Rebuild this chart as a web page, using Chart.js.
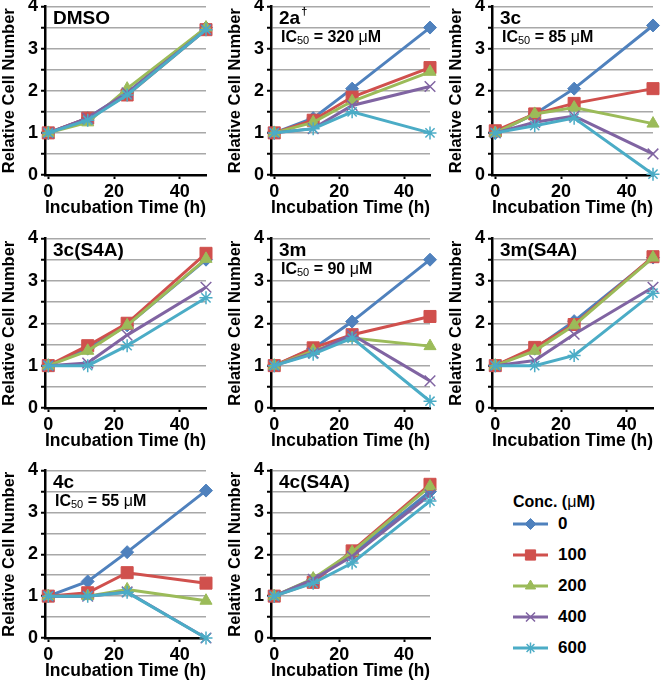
<!DOCTYPE html>
<html lang="en">
<head>
<meta charset="UTF-8">
<title>Relative Cell Number vs Incubation Time</title>
<script src="https://cdn.jsdelivr.net/npm/chart.js"></script>
<style>
  body { margin: 0; background: #fff; width: 662px; height: 683px; position: relative; overflow: hidden;
         font-family: 'Liberation Sans', Arial, sans-serif; }
  .panel { position: absolute; }
  .legend-title { position: absolute; left: 554px; top: 502px; transform: translate(-50%, -50%);
                  font-weight: bold; font-size: 16px; white-space: nowrap; }
  .legend-row { position: absolute; left: 511px; height: 20px; }
  .legend-row canvas { position: absolute; left: 0; top: 0; }
  .legend-row span { position: absolute; left: 47px; top: 0; line-height: 20px; font-weight: bold; font-size: 17px; }
</style>
</head>
<body>
<div id="panels"></div>
<div class="legend-title">Conc. (<span style="font-weight:normal">&mu;</span>M)</div>
<div id="legend"></div>

<script>
// time points (h)
const times = [0, 12, 24, 48];
// concentrations (uM)
const concLabels = ['0', '100', '200', '400', '600'];

// relative cell number, one row per concentration
const dmso = [
  [1.0, 1.35, 1.95, 3.5],
  [1.0, 1.35, 1.9, 3.45],
  [1.0, 1.25, 2.05, 3.5],
  [1.0, 1.35, 1.95, 3.45],
  [1.0, 1.3, 1.9, 3.45]
];
const c2a = [
  [1.0, 1.35, 2.05, 3.5],
  [1.0, 1.3, 1.85, 2.55],
  [1.0, 1.25, 1.75, 2.45],
  [1.0, 1.1, 1.65, 2.1],
  [1.0, 1.1, 1.5, 1.0]
];
const c3c = [
  [1.0, 1.45, 2.05, 3.55],
  [1.05, 1.45, 1.7, 2.05],
  [1.0, 1.45, 1.6, 1.22],
  [1.0, 1.25, 1.4, 0.5],
  [1.0, 1.17, 1.35, 0.02]
];
const c3cS4A = [
  [1.0, 1.4, 1.95, 3.5],
  [1.0, 1.47, 2.0, 3.65],
  [1.0, 1.35, 1.95, 3.52],
  [1.0, 1.06, 1.72, 2.85],
  [1.0, 1.0, 1.47, 2.6]
];
const c3m = [
  [1.0, 1.4, 2.04, 3.5],
  [1.0, 1.42, 1.73, 2.16],
  [1.0, 1.35, 1.65, 1.46],
  [1.0, 1.3, 1.73, 0.64],
  [1.0, 1.27, 1.65, 0.16]
];
const c3mS4A = [
  [1.0, 1.4, 2.05, 3.55],
  [1.0, 1.43, 1.97, 3.57],
  [1.0, 1.35, 1.95, 3.55],
  [1.0, 1.12, 1.74, 2.85],
  [1.0, 1.0, 1.24, 2.71]
];
const c4c = [
  [1.0, 1.35, 2.05, 3.52],
  [1.0, 1.08, 1.56, 1.31],
  [1.0, 1.0, 1.16, 0.89],
  [1.0, 1.0, 1.1, 0.0],
  [1.0, 1.0, 1.09, 0.0]
];
const c4cS4A = [
  [1.0, 1.4, 2.0, 3.5],
  [1.0, 1.33, 2.08, 3.67],
  [1.0, 1.42, 2.05, 3.62],
  [1.0, 1.4, 1.95, 3.42],
  [1.0, 1.31, 1.79, 3.27]
];

const panelData = [dmso, c2a, c3c, c3cS4A, c3m, c3mS4A, c4c, c4cS4A];
const panelNames = ['DMSO', '2a', '3c', '3c(S4A)', '3m', '3m(S4A)', '4c', '4c(S4A)'];
const panelSup = ['', '\u2020', '', '', '', '', '', ''];
const panelIC50 = ['', '320', '85', '', '90', '', '55', ''];

// series styling
const colors = ['#4F81BD', '#D0504D', '#9BBB59', '#8064A2', '#4BACC6'];
const markers = ['rectRot', 'rect', 'triangle', 'crossRot', 'star'];
const markerSize = [6.5, 8.5, 7, 7.5, 6.5];

// page layout (pixels)
const FONT = "'Liberation Sans', Arial, sans-serif";
const colAxis = [45, 271, 492];
const colRight = [206, 430, 653];
const rowTop = [5, 237, 469];
const rowBottom = [175, 408, 638];
const Y_W = 43, X_H = 47, PAD_TOP = 8, CANVAS_W = 216;

Chart.defaults.font.family = FONT;
Chart.defaults.color = '#000';

const panelText = {
  id: 'panelText',
  afterDraw(chart, args, opts) {
    const ctx = chart.ctx, a = chart.chartArea;
    ctx.save();
    ctx.fillStyle = '#000';
    ctx.textBaseline = 'middle';
    ctx.textAlign = 'left';
    let x = a.left + 8, y = a.top + 12;
    ctx.font = 'bold 19px ' + FONT;
    ctx.fillText(opts.name, x, y);
    if (opts.sup) {
      const w = ctx.measureText(opts.name).width;
      ctx.font = 'bold 11px ' + FONT;
      ctx.fillText(opts.sup, x + w + 1, y - 7);
    }
    if (opts.ic50) {
      let cx = a.left + 10;
      const cy = a.top + 31;
      const parts = [
        ['IC', 'bold 16px', 0],
        ['50', '11px', 3],
        [' = ' + opts.ic50 + ' ', 'bold 16px', 0],
        ['\u03bc', '16px', 0],
        ['M', 'bold 16px', 0]
      ];
      parts.forEach(p => {
        ctx.font = p[1] + ' ' + FONT;
        ctx.fillText(p[0], cx, cy + p[2]);
        cx += ctx.measureText(p[0]).width;
      });
    }
    ctx.restore();
  }
};

const holder = document.getElementById('panels');

panelData.forEach((rows, k) => {
  const col = k % 3, row = Math.floor(k / 3);
  const plotW = colRight[col] - colAxis[col];
  const plotH = rowBottom[row] - rowTop[row];
  const div = document.createElement('div');
  div.className = 'panel';
  div.style.left = (colAxis[col] - Y_W) + 'px';
  div.style.top = (rowTop[row] - PAD_TOP) + 'px';
  const canvas = document.createElement('canvas');
  canvas.width = CANVAS_W;
  canvas.height = PAD_TOP + plotH + X_H;
  div.appendChild(canvas);
  holder.appendChild(div);

  const datasets = rows.map((vals, i) => ({
    label: concLabels[i],
    data: times.map((t, j) => ({ x: t, y: vals[j] })),
    borderColor: colors[i],
    backgroundColor: colors[i],
    borderWidth: 3,
    pointStyle: markers[i],
    pointRadius: markerSize[i],
    pointBorderWidth: (i >= 3) ? 1.5 : 1,
    pointBorderColor: colors[i],
    pointBackgroundColor: colors[i],
    tension: 0,
    clip: false,
    order: 4 - i
  }));

  new Chart(canvas, {
    type: 'line',
    data: { datasets: datasets },
    options: {
      responsive: false,
      animation: false,
      layout: { padding: { top: PAD_TOP, right: CANVAS_W - Y_W - plotW, bottom: 0, left: 0 } },
      plugins: {
        legend: { display: false },
        tooltip: { enabled: false },
        panelText: { name: panelNames[k], sup: panelSup[k], ic50: panelIC50[k] }
      },
      scales: {
        x: {
          type: 'linear',
          min: -1,
          max: 48,
          afterFit(s) { s.height = X_H; s.paddingLeft = 0; s.paddingRight = 0; },
          ticks: { stepSize: 20, includeBounds: false, padding: 2, maxRotation: 0, autoSkip: false,
                   font: { size: 18, weight: 'bold' }, color: '#000' },
          grid: { drawOnChartArea: false, drawTicks: true, tickLength: 4, tickColor: '#000', tickWidth: 2 },
          border: { display: true, color: '#000', width: 2.5 },
          title: { display: true, text: 'Incubation Time (h)', color: '#000',
                   font: { size: 18, weight: 'bold', lineHeight: 1.2 }, padding: { top: 0, bottom: 3 } }
        },
        y: {
          min: 0,
          max: 4,
          afterFit(s) { s.width = Y_W; s.paddingTop = 0; s.paddingBottom = 0; },
          ticks: { stepSize: 0.5, padding: 3, autoSkip: false, font: { size: 18, weight: 'bold' }, color: '#000',
                   callback: v => Number.isInteger(v) ? String(v) : '' },
          grid: { color: '#a8a8a8', lineWidth: 1.5, drawTicks: true, tickLength: 4, tickColor: '#000', tickWidth: 2 },
          border: { display: true, color: '#000', width: 2.5 },
          title: { display: true, text: 'Relative Cell Number', color: '#000',
                   font: { size: 16.5, weight: 'bold', lineHeight: 0.9 }, padding: 0 }
        }
      }
    },
    plugins: [panelText]
  });
});

// legend
const legendRowY = [524, 555, 586, 617, 648];
const legend = document.getElementById('legend');
concLabels.forEach((lab, i) => {
  const r = document.createElement('div');
  r.className = 'legend-row';
  r.style.top = (legendRowY[i] - 10) + 'px';
  const c = document.createElement('canvas');
  c.width = 40; c.height = 20;
  r.appendChild(c);
  const s = document.createElement('span');
  s.textContent = lab;
  r.appendChild(s);
  legend.appendChild(r);

  const ctx = c.getContext('2d');
  ctx.strokeStyle = colors[i];
  ctx.fillStyle = colors[i];
  ctx.lineWidth = 3;
  ctx.beginPath();
  ctx.moveTo(2, 10);
  ctx.lineTo(37, 10);
  ctx.stroke();
  ctx.lineWidth = (i >= 3) ? 1.5 : 1;
  if (Chart.helpers && Chart.helpers.drawPoint) {
    Chart.helpers.drawPoint(ctx, { pointStyle: markers[i], radius: markerSize[i] * 0.85, rotation: 0, borderWidth: ctx.lineWidth }, 19.5, 10);
  } else {
    ctx.beginPath();
    ctx.arc(19.5, 10, 5, 0, Math.PI * 2);
    ctx.fill();
  }
});
</script>
</body>
</html>
